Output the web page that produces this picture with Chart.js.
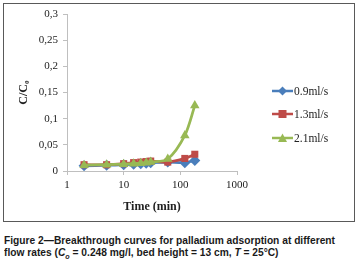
<!DOCTYPE html>
<html lang="en">
<head>
    <meta charset="UTF-8">
    <title>Breakthrough curves</title>
    <script src="https://cdn.jsdelivr.net/npm/chart.js"></script>
    <style>
        body { margin: 0; background: #fff; width: 359px; height: 264px; position: relative; overflow: hidden; }
        #box { position: absolute; left: 3px; top: 3px; width: 350px; height: 217px; border: 1.5px solid #595959; }
        #chart { position: absolute; left: 0; top: 0; }
        .leg { position: absolute; left: 272px; height: 14px; font: 11.5px 'Liberation Serif', serif; color: #222; display: flex; align-items: center; }
        .leg svg { margin-right: 1px; }
        .cap { position: absolute; left: 4px; font: bold 10px 'Liberation Sans Narrow', 'Liberation Sans', Arial, sans-serif; color: #1a1a1a; white-space: nowrap; transform-origin: 0 0; }
    </style>
</head>
<body>
    <div id="box"></div>
    <canvas id="chart" width="359" height="224"></canvas>
    <div class="leg" style="top:84px"><svg width="21" height="14"><line x1="0" y1="7" x2="21" y2="7" stroke="#4A7EBB" stroke-width="2.5"/><polygon points="10.5,2.5 15,7 10.5,11.5 6,7" fill="#4A7EBB"/></svg>0.9ml/s</div>
    <div class="leg" style="top:107px"><svg width="21" height="14"><line x1="0" y1="7" x2="21" y2="7" stroke="#BE4B48" stroke-width="2.5"/><rect x="6.5" y="3" width="8" height="8" fill="#BE4B48"/></svg>1.3ml/s</div>
    <div class="leg" style="top:131px"><svg width="21" height="14"><line x1="0" y1="7" x2="21" y2="7" stroke="#98B954" stroke-width="2.5"/><polygon points="10.5,2.5 15,11 6,11" fill="#98B954"/></svg>2.1ml/s</div>
    <div class="cap" id="cap1" style="top:235px">Figure 2—Breakthrough curves for palladium adsorption at different</div>
    <div class="cap" id="cap2" style="top:247px">flow rates (<i>C<sub style="font-size:7px">o</sub></i> = 0.248 mg/l, bed height = 13 cm, <i>T</i> = 25°C)</div>
    <script>
        // data
        const times = [2, 5, 10, 15, 20, 25, 30, 60, 120, 180];
        const flow09 = [0.010, 0.011, 0.012, 0.013, 0.014, 0.015, 0.016, 0.017, 0.016, 0.020];
        const flow13 = [0.012, 0.012, 0.014, 0.016, 0.017, 0.018, 0.019, 0.017, 0.024, 0.032];
        const flow21 = [0.011, 0.012, 0.013, 0.014, 0.015, 0.016, 0.017, 0.023, 0.068, 0.125];
        const xTicks = [1, 10, 100, 1000];

        // squeeze caption lines to the width of the original
        const cap1 = document.getElementById('cap1');
        const cap2 = document.getElementById('cap2');
        const k = 331 / cap1.getBoundingClientRect().width;
        cap1.style.transform = 'scaleX(' + k + ')';
        cap2.style.transform = 'scaleX(' + k + ')';

        // later series sit on top, like in the original
        function series(label, values, color, style, order) {
            return {
                label: label,
                data: times.map((t, i) => ({ x: t, y: values[i] })),
                borderColor: color,
                backgroundColor: color,
                borderWidth: 2.75,
                pointStyle: style,
                pointRadius: style === 'rect' ? 5 : 5.5,
                pointBorderWidth: 0,
                tension: 0.3,
                order: order
            };
        }

        const axisColor = '#BFBFBF';
        const serif = 'Liberation Serif';

        new Chart(document.getElementById('chart'), {
            type: 'line',
            data: {
                datasets: [
                    series('0.9ml/s', flow09, '#4A7EBB', 'rectRot', 2),
                    series('1.3ml/s', flow13, '#BE4B48', 'rect', 1),
                    series('2.1ml/s', flow21, '#98B954', 'triangle', 0)
                ]
            },
            options: {
                responsive: false,
                animation: false,
                devicePixelRatio: 1,
                layout: { padding: { left: 0, right: 122, top: 14, bottom: 9 } },
                plugins: { legend: { display: false }, tooltip: { enabled: false } },
                scales: {
                    x: {
                        type: 'logarithmic',
                        min: 1,
                        max: 1000,
                        afterBuildTicks: s => { s.ticks = xTicks.map(v => ({ value: v })); },
                        afterFit: s => { s.height = 44; },
                        border: { color: axisColor, width: 1 },
                        grid: { drawOnChartArea: false, color: axisColor, tickLength: 4 },
                        ticks: { color: '#222', font: { family: serif, size: 11 }, padding: 4, maxRotation: 0,
                            callback: v => String(v) },
                        title: { display: true, text: 'Time (min)', color: '#222',
                            font: { family: serif, size: 12, weight: 'bold' }, padding: { top: 0, bottom: 1 } }
                    },
                    y: {
                        min: 0,
                        max: 0.3,
                        afterFit: s => { s.width = 67; },
                        border: { color: axisColor, width: 1 },
                        grid: { drawOnChartArea: false, color: axisColor, tickLength: 4 },
                        ticks: { stepSize: 0.05, color: '#222', font: { family: serif, size: 11 }, padding: 5,
                            callback: v => String(Number(v.toFixed(2))).replace('.', ',') },
                        title: { display: true, text: 'C/C₀', color: '#222',
                            font: { family: serif, size: 12, weight: 'bold' }, padding: { top: 17, bottom: 0 } }
                    }
                }
            }
        });
    </script>
</body>
</html>
